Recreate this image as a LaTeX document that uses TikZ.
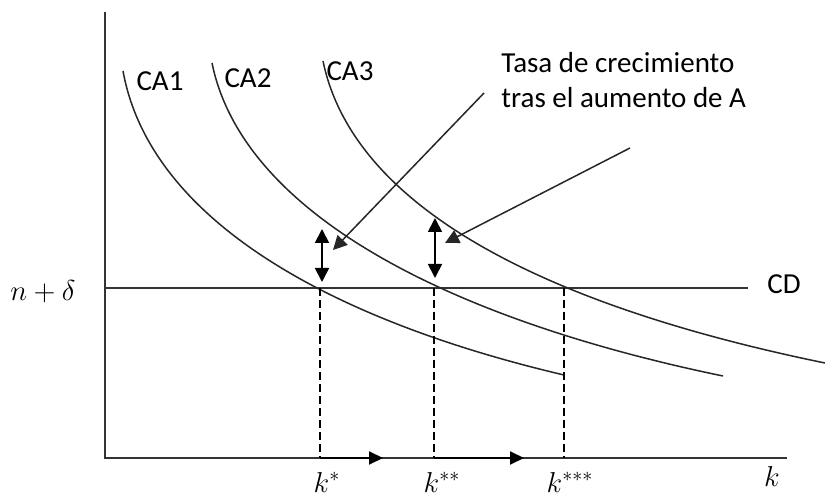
\documentclass[tikz,border=0pt]{standalone}
\usepackage{fontspec}
\setmainfont{Carlito}
\usetikzlibrary{arrows.meta,positioning}
\tikzset{
    axisline/.style={draw=black!80, line width=1pt},
    curve/.style={draw=black!85, line width=0.75pt},
    levelline/.style={draw=black!80, line width=0.8pt},
    guide/.style={draw=black, line width=1.4pt, dash pattern=on 4pt off 2pt},
    lbl/.style={font=\fontsize{14.5}{17.5}\selectfont, inner sep=0pt},
    % Arrow styles
    pointer/.style={-{Triangle[length=7pt,width=7pt]}, draw=black!85, line width=0.75pt},
    gap/.style={{Triangle[length=7pt,width=7pt]}-{Triangle[length=7pt,width=7pt]}, line width=0.9pt},
    move/.style={-{Triangle[length=7pt,width=6.5pt]}, line width=1pt}
}
\begin{document}
\begin{tikzpicture}[x=0.5pt, y=-0.5pt]
    \useasboundingbox (0,0) rectangle (825,497);

    % Axes
    \coordinate (origin) at (105,458);
    \coordinate (ytop) at (105,12);
    \coordinate (xend) at (787,458);
    \draw[axisline] (ytop) -- (origin) -- (xend);
    \node[lbl] (klabel) at (772,476) {$k$};

    % Level line n + delta
    \coordinate (cdstart) at (105,288);
    \coordinate (cdend) at (748,288);
    \draw[levelline] (cdstart) -- (cdend);
    \node[lbl] (nd) at (43,292) {$n+\delta$};
    \node[lbl] (cd) at (784,284) {CD};

    % Curves
    \draw[curve] (123,71) .. controls (150,220) and (330,320) .. (564,375);
    \draw[curve] (212,63) .. controls (243,215) and (452,320) .. (723,376);
    \draw[curve] (323,61) .. controls (354,211) and (552,307) .. (825,363);
    \node[lbl] (ca1) at (160,81) {CA1};
    \node[lbl] (ca2) at (248,78) {CA2};
    \node[lbl] (ca3) at (350,71) {CA3};

    % Steady states
    \coordinate (e1) at (320,288);
    \coordinate (e2) at (434,288);
    \coordinate (e3) at (564,288);
    \coordinate (b1) at (320,458);
    \coordinate (b2) at (434,458);
    \coordinate (b3) at (564,458);
    \draw[guide] (e1) -- (b1);
    \draw[guide] (e2) -- (b2);
    \draw[guide] (e3) -- (b3);
    \node[lbl] (k1) at (327,482) {$k^{*}$};
    \node[lbl] (k2) at (442,482) {$k^{**}$};
    \node[lbl] (k3) at (570,482) {$k^{***}$};

    % Movement along k
    \coordinate (m1) at (383,458);
    \coordinate (m2) at (524,458);
    \draw[move] (b1) -- (m1);
    \draw[move] (b2) -- (m2);

    % Growth gaps
    \coordinate (g1top) at (322,229);
    \coordinate (g1bot) at (322,282);
    \coordinate (g2top) at (435,218);
    \coordinate (g2bot) at (435,278);
    \draw[gap] (g1top) -- (g1bot);
    \draw[gap] (g2top) -- (g2bot);

    % Note and pointers
    \node[lbl, anchor=north west, align=left] (note) at (501,52)
        {Tasa de crecimiento\\tras el aumento de A};
    \coordinate (p1) at (484,93);
    \coordinate (p2) at (630,148);
    \coordinate (t1) at (333,250);
    \coordinate (t2) at (445,243);
    \draw[pointer] (p1) -- (t1);
    \draw[pointer] (p2) -- (t2);
\end{tikzpicture}
\end{document}
